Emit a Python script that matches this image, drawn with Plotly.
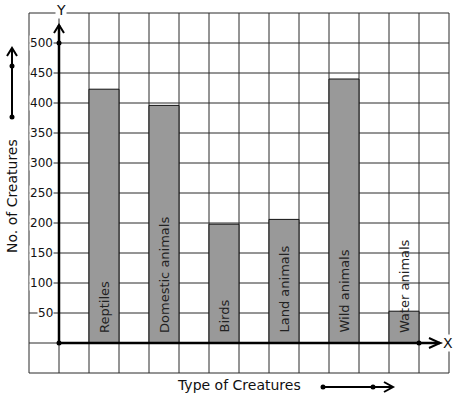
import plotly.graph_objects as go

categories = ["Reptiles", "Domestic animals", "Birds", "Land animals", "Wild animals", "Water animals"]
values = [423, 396, 198, 206, 440, 53]
tick_values = [500, 450, 400, 350, 300, 250, 200, 150, 100, 50]

W, H = 457, 399
# pixel <-> data helpers (plot area = full figure)
OX, OY = 59, 343          # origin pixel
PX_X, PX_Y = 30.0, 30.0 / 50.0   # pixels per data unit

def dx(px):
    return (px - OX) / PX_X

def dy(py):
    return (OY - py) / PX_Y

xpos = [1.5 + 2 * i for i in range(len(categories))]

fig = go.Figure()
fig.add_trace(go.Bar(
    x=xpos, y=values, width=1,
    marker=dict(color="#999999", line=dict(color="#111111", width=1)),
    hoverinfo="skip", showlegend=False,
))

shapes = []
gc = "#2a2a2a"
# grid
for gx in range(-1, 14):
    shapes.append(dict(type="line", x0=gx, x1=gx, y0=-50, y1=550, layer="below",
                       line=dict(color=gc, width=1)))
for gy in range(-50, 551, 50):
    shapes.append(dict(type="line", x0=-1, x1=13, y0=gy, y1=gy, layer="below",
                       line=dict(color=gc, width=1)))

ax_w = 2.5
# Y axis with chevron
ytop = dy(25)
shapes.append(dict(type="line", x0=0, x1=0, y0=0, y1=ytop, line=dict(color="black", width=ax_w)))
shapes.append(dict(type="path", path=f"M {dx(54)} {dy(33)} L 0 {ytop} L {dx(64)} {dy(33)}",
                   line=dict(color="black", width=2)))
# X axis with chevron
xend = dx(440)
shapes.append(dict(type="line", x0=0, x1=xend, y0=0, y1=0, line=dict(color="black", width=ax_w)))
shapes.append(dict(type="path", path=f"M {dx(429)} {dy(338)} L {xend} 0 L {dx(429)} {dy(348)}",
                   line=dict(color="black", width=2)))
# left arrow
lx = dx(12)
shapes.append(dict(type="line", x0=lx, x1=lx, y0=dy(117), y1=dy(48), line=dict(color="black", width=2)))
shapes.append(dict(type="path", path=f"M {dx(7)} {dy(56)} L {lx} {dy(48)} L {dx(17)} {dy(56)}",
                   line=dict(color="black", width=2)))
# bottom arrow
by = dy(387)
shapes.append(dict(type="line", x0=dx(323), x1=dx(393), y0=by, y1=by, line=dict(color="black", width=2)))
shapes.append(dict(type="path", path=f"M {dx(384)} {dy(382)} L {dx(393)} {by} L {dx(384)} {dy(392)}",
                   line=dict(color="black", width=2)))

# dots
fig.add_trace(go.Scatter(
    x=[0, 0, 12, lx, lx, dx(323), dx(373)],
    y=[0, 500, 0, dy(117), dy(66), by, by],
    mode="markers", marker=dict(color="black", size=5),
    hoverinfo="skip", showlegend=False,
))

ann = []
font = "DejaVu Sans"
for tv in tick_values:
    ann.append(dict(x=dx(53.5), y=tv, text=str(tv), showarrow=False, xanchor="right",
                    yanchor="middle", bgcolor="white", borderpad=0,
                    font=dict(family=font, size=12, color="#111")))
for xc, name in zip(xpos, categories):
    ann.append(dict(x=xc, y=dy(334), text=name, showarrow=False, textangle=-90,
                    xanchor="center", yanchor="bottom", borderpad=0,
                    font=dict(family=font, size=13, color="#222")))
ann.append(dict(x=dx(61), y=dy(10), text="Y", showarrow=False, bgcolor="white", borderpad=0,
                font=dict(family=font, size=14, color="#111")))
ann.append(dict(x=dx(448), y=0, text="X", showarrow=False, bgcolor="white", borderpad=0,
                font=dict(family=font, size=14, color="#111")))
ann.append(dict(x=dx(12), y=dy(196), text="No. of Creatures", showarrow=False, textangle=-90,
                font=dict(family=font, size=14, color="#111")))
ann.append(dict(x=dx(239), y=dy(385), text="Type of Creatures", showarrow=False,
                font=dict(family=font, size=14, color="#111")))

fig.update_layout(
    width=W, height=H,
    margin=dict(l=0, r=0, t=0, b=0),
    paper_bgcolor="white", plot_bgcolor="white",
    xaxis=dict(range=[dx(0), dx(W)], visible=False, fixedrange=True),
    yaxis=dict(range=[dy(H), dy(0)], visible=False, fixedrange=True),
    shapes=shapes, annotations=ann, bargap=0,
)

fig.write_html("out.html", config={"staticPlot": True},
               post_script="document.body.style.margin='0';document.body.style.overflow='hidden';")
